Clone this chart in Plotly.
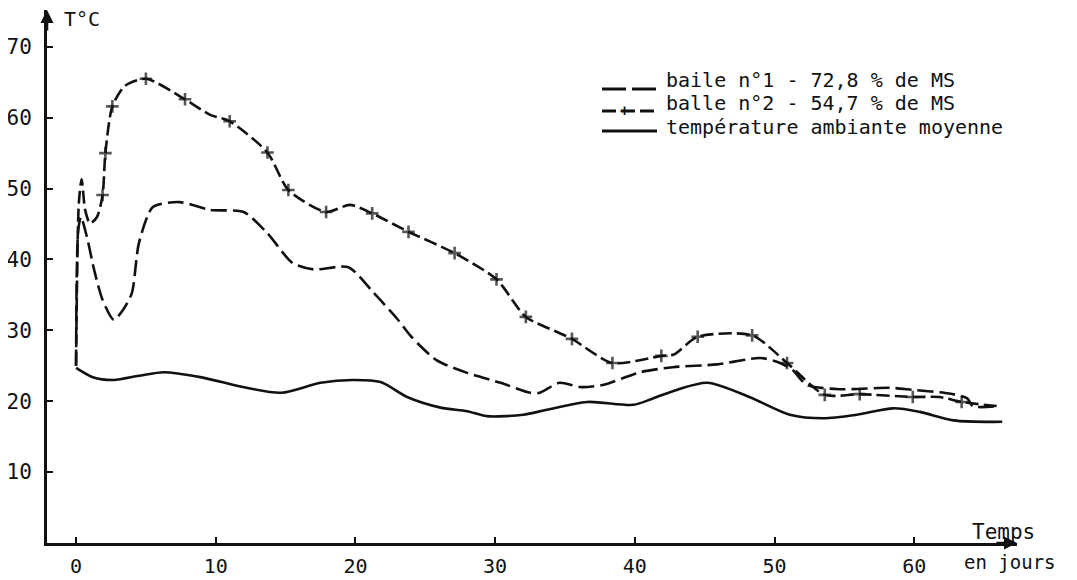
import plotly.graph_objects as go

# ---------------- data ----------------
days_b1 = [0, 0.15, 0.35, 0.8, 1.3, 1.9, 2.7, 3.4, 4.0, 4.5, 5.5, 7.4, 9.6, 12.0, 13.7,
           15.5, 17.0, 19.5, 21.3, 23.0, 24.0, 25.8, 28.0, 30.4, 32.5, 33.2, 34.6, 36.1,
           37.7, 40.4, 42.7, 45.9, 49.0, 50.4, 51.3, 52.3, 54.7, 58.3, 59.9, 62.5, 63.8,
           64.2, 66.0]
temp_b1 = [25, 44, 46, 43, 38.5, 34.3, 31.5, 33.0, 35.3, 42.3, 47.4, 48.1, 47.0, 46.7, 43.7,
           39.5, 38.6, 38.9, 35.3, 31.6, 29.1, 25.8, 24.0, 22.6, 21.2, 21.2, 22.6, 22.0,
           22.3, 24.1, 24.8, 25.2, 26.1, 25.4, 24.4, 22.3, 21.7, 21.9, 21.6, 21.1, 20.4,
           19.3, 19.3]

days_b2 = [0, 0.2, 0.4, 0.65, 1.0, 1.5, 1.9, 2.1, 2.6, 3.5, 5.0, 7.8, 9.6, 11.0, 13.7,
           15.2, 17.9, 19.6, 21.2, 23.8, 27.1, 30.1, 32.2, 34.4, 35.5, 38.4, 41.9, 42.8,
           44.5, 48.4, 50.9, 53.6, 56.1, 59.9, 61.8, 63.4, 66.0]
temp_b2 = [25, 48, 51.3, 47, 45.1, 46, 49.1, 55.0, 61.6, 64.5, 65.5, 62.6, 60.4, 59.5, 55.1,
           49.8, 46.7, 47.7, 46.5, 43.9, 40.9, 37.2, 31.9, 29.8, 28.8, 25.4, 26.4, 26.6,
           29.1, 29.3, 25.4, 20.9, 21.0, 20.6, 20.6, 19.9, 19.3]
mark_b2 = [0, 0, 0, 0, 0, 0, 1, 1, 1, 0, 1, 1, 0, 1, 1,
           1, 1, 0, 1, 1, 1, 1, 1, 0, 1, 1, 1, 0,
           1, 1, 1, 1, 1, 1, 0, 1, 0]

days_amb = [0, 1.2, 2.7, 4.5, 6.3, 8.9, 12.2, 14.7, 17.5, 19.8, 21.8, 23.7, 26.1, 28.0,
            29.4, 32.0, 33.7, 36.6, 39.9, 41.3, 43.0, 45.2, 48.2, 51.1, 53.5, 55.9, 58.5,
            60.4, 62.8, 66.3]
temp_amb = [24.7, 23.4, 23.0, 23.6, 24.1, 23.4, 21.9, 21.2, 22.6, 23.0, 22.7, 20.6, 19.1, 18.6,
            17.9, 18.1, 18.8, 19.9, 19.5, 20.4, 21.6, 22.6, 20.6, 18.1, 17.6, 18.1, 19.0,
            18.5, 17.3, 17.1]

x_ticks = [0, 10, 20, 30, 40, 50, 60]
y_ticks = [10, 20, 30, 40, 50, 60, 70]

legend_labels = ["baile n°1 - 72,8 % de MS",
                 "balle n°2 - 54,7 % de MS",
                 "température ambiante moyenne"]

# ---------------- layout geometry ----------------
# the page body has an 8px margin, so the figure is placed at (8, 8) in the window
OX, OY = 8, 8
W, H = 1077 - OX, 580 - OY
PL, PR, PT, PB = 47, 1017, 10, 543          # plot area in window pixels
L, T = PL - OX, PT - OY
R, B = W - (PR - OX), H - (PB - OY)
PW, PH = W - L - R, H - T - B
FONT = "DejaVu Sans Mono"
INK = "#111111"


def px(xp):
    return (xp - PL) / PW


def py(yp):
    return (PB - yp) / PH


fig = go.Figure()

fig.add_trace(go.Scatter(
    x=days_b1, y=temp_b1, mode="lines", name=legend_labels[0],
    line=dict(color=INK, width=2.6, dash="16px,6px", shape="spline", smoothing=0.7),
    showlegend=False))

fig.add_trace(go.Scatter(
    x=days_b2, y=temp_b2, mode="lines+markers", name=legend_labels[1],
    line=dict(color=INK, width=2.6, dash="13px,5px", shape="spline", smoothing=0.7),
    marker=dict(symbol="cross-thin", size=[9 if m else 0 for m in mark_b2], color=INK,
                line=dict(width=2.6, color=INK)),
    showlegend=False))

fig.add_trace(go.Scatter(
    x=days_amb, y=temp_amb, mode="lines", name=legend_labels[2],
    line=dict(color=INK, width=2.6, shape="spline", smoothing=0.8),
    showlegend=False))

shapes = []
annotations = []

# legend (drawn manually to match the tight row spacing of the original)
rows_text_y = [80, 103.5, 127]
rows_line_y = [89, 111, 131]
dashes = ["24px,6px", "14px,5px", "solid"]
for lbl, ty, ly, d in zip(legend_labels, rows_text_y, rows_line_y, dashes):
    shapes.append(dict(type="line", xref="paper", yref="paper",
                       x0=px(602), x1=px(657), y0=py(ly), y1=py(ly),
                       line=dict(color=INK, width=3, dash=d)))
    annotations.append(dict(xref="paper", yref="paper", x=px(664), y=py(ty),
                            xanchor="left", yanchor="middle", showarrow=False,
                            text=lbl, font=dict(family=FONT, size=20, color=INK)))
annotations.append(dict(xref="paper", yref="paper", x=px(624), y=py(rows_line_y[1]),
                        xanchor="center", yanchor="middle", showarrow=False,
                        text="<b>+</b>", font=dict(family=FONT, size=15, color=INK)))

# axis titles
annotations.append(dict(xref="paper", yref="paper", x=px(62), y=py(19),
                        xanchor="left", yanchor="middle", showarrow=False,
                        text="T°C", font=dict(family=FONT, size=20, color=INK)))
annotations.append(dict(xref="paper", yref="paper", x=px(1003), y=py(532),
                        xanchor="center", yanchor="middle", showarrow=False,
                        text="Temps", font=dict(family=FONT, size=21, color=INK)))
annotations.append(dict(xref="paper", yref="paper", x=px(1010), y=py(562),
                        xanchor="center", yanchor="middle", showarrow=False,
                        text="en jours", font=dict(family=FONT, size=19, color=INK)))

# axis arrow heads
annotations.append(dict(xref="paper", yref="paper", x=0, y=1, ax=0, ay=22,
                        showarrow=True, arrowhead=2, arrowsize=1, arrowwidth=2.6,
                        arrowcolor=INK, text=""))
annotations.append(dict(xref="paper", yref="paper", x=1, y=0, ax=-22, ay=0,
                        showarrow=True, arrowhead=2, arrowsize=1, arrowwidth=2.6,
                        arrowcolor=INK, text=""))

fig.update_layout(
    width=W, height=H,
    margin=dict(l=L, r=R, t=T, b=B, pad=0),
    paper_bgcolor="white", plot_bgcolor="white",
    shapes=shapes, annotations=annotations,
    showlegend=False,
    xaxis=dict(range=[-2.08, 67.36], tickvals=x_ticks, ticktext=[str(v) for v in x_ticks],
               automargin=False,
               showgrid=False, zeroline=False, showline=True, linecolor=INK, linewidth=2.8,
               ticks="inside", ticklen=6, tickwidth=2, tickcolor=INK,
               tickfont=dict(family=FONT, size=20, color=INK), ticklabelstandoff=3),
    yaxis=dict(range=[0, 75.2], tickvals=y_ticks, ticktext=[str(v) for v in y_ticks],
               automargin=False,
               showgrid=False, zeroline=False, showline=True, linecolor=INK, linewidth=2.8,
               ticks="inside", ticklen=6, tickwidth=2, tickcolor=INK,
               tickfont=dict(family=FONT, size=21, color=INK), ticklabelstandoff=8),
)

fig.write_html("out.html")
